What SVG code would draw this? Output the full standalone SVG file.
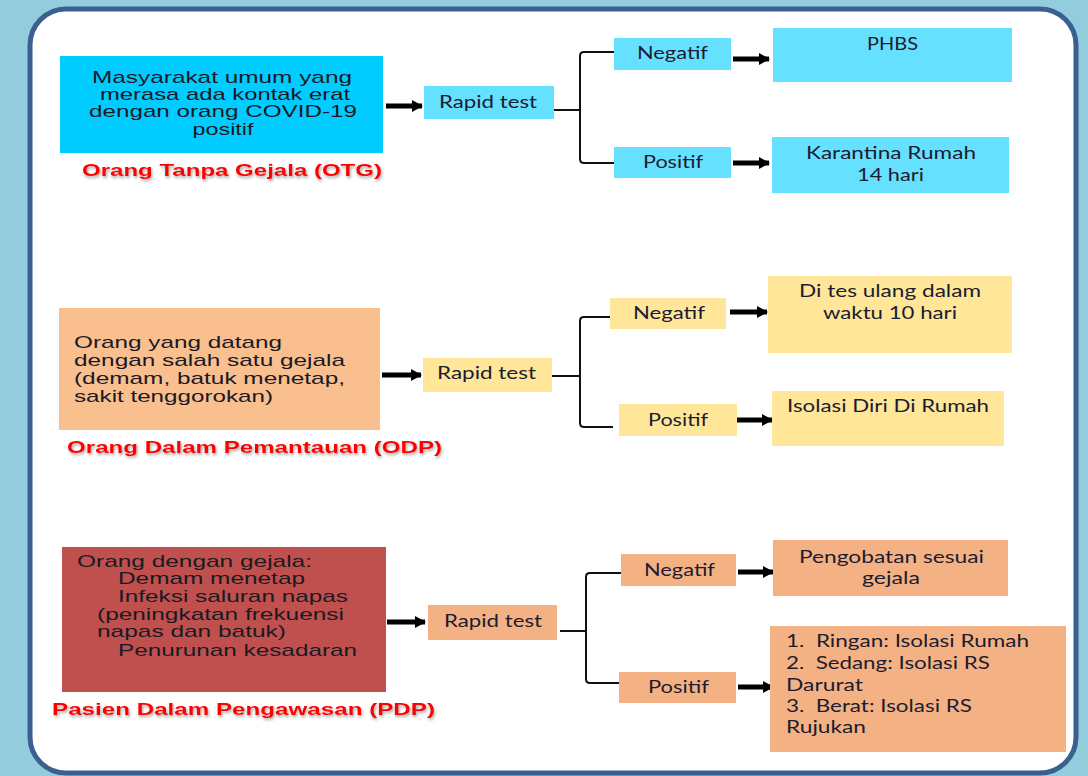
<svg xmlns="http://www.w3.org/2000/svg" width="1088" height="776" viewBox="0 0 1088 776">
<defs>
<style>
.main{font-family:"Liberation Sans",Arial,sans-serif;font-size:17px;fill:#1a1a24}
.lbl{font-family:"Liberation Sans",Arial,sans-serif;font-size:17px;font-weight:bold;fill:#ff0000;filter:url(#shadow)}
.cal{font-family:Lato,"Open Sans",sans-serif;font-size:17px;fill:#1c1c30}
.c{text-anchor:middle}
.conn{fill:none;stroke:#111;stroke-width:2;stroke-linejoin:round}
.arr{fill:none;stroke:#000;stroke-width:5;marker-end:url(#head)}
.otg1{fill:#00ccff}.otg2{fill:#66e0ff}
.odp1{fill:#f9bf8f}.odp2{fill:#ffe699}
.pdp1{fill:#c0504d}.pdp2{fill:#f4b183}
</style>
<filter id="shadow" x="-10%" y="-40%" width="120%" height="200%">
<feDropShadow dx="1" dy="2" stdDeviation="1.5" flood-color="#555" flood-opacity="0.55"/>
</filter>
<marker id="head" markerUnits="userSpaceOnUse" markerWidth="13" markerHeight="13" refX="10" refY="6.5" orient="auto">
<path d="M0,0.5 L11,6.5 L0,12.5 Z" fill="#000"/>
</marker>
</defs>
<rect x="0" y="0" width="1088" height="776" fill="#93cddd"/>
<rect x="30" y="9" width="1046" height="764" rx="36" fill="#ffffff" stroke="#3b5f8f" stroke-width="5"/>

<g id="connectors">
<path class="conn" d="M554,110 H580 M615,52 H584 Q580,52 580,56 V159 Q580,163 584,163 H615"/>
<path class="conn" d="M552,376 H580 M612,317 H584 Q580,317 580,321 V423 Q580,427 584,427 H613"/>
<path class="conn" d="M560,631 H586 M621,573 H590 Q586,573 586,577 V679 Q586,683 590,683 H619"/>
<line class="arr" x1="386" y1="106" x2="422" y2="106"/>
<line class="arr" x1="733" y1="59" x2="769" y2="59"/>
<line class="arr" x1="733" y1="163" x2="769" y2="163"/>
<line class="arr" x1="382" y1="375" x2="421" y2="375"/>
<line class="arr" x1="730" y1="312" x2="767" y2="312"/>
<line class="arr" x1="736" y1="420" x2="772" y2="420"/>
<line class="arr" x1="387" y1="622" x2="425" y2="622"/>
<line class="arr" x1="738" y1="572" x2="773" y2="572"/>
<line class="arr" x1="738" y1="687" x2="773" y2="687"/>
</g>

<!-- OTG -->
<g id="otg-main">
<rect class="otg1" x="60" y="56" width="323" height="97"/>
<text class="main c" x="222" y="83" textLength="260" lengthAdjust="spacingAndGlyphs">Masyarakat umum yang</text>
<text class="main c" x="225" y="100" textLength="250" lengthAdjust="spacingAndGlyphs">merasa ada kontak erat</text>
<text class="main c" x="223" y="117" textLength="268" lengthAdjust="spacingAndGlyphs">dengan orang COVID-19</text>
<text class="main c" x="223" y="134.5" textLength="61" lengthAdjust="spacingAndGlyphs">positif</text>
</g>
<g id="otg-label"><text class="lbl" x="82" y="176" textLength="300" lengthAdjust="spacingAndGlyphs">Orang Tanpa Gejala (OTG)</text></g>
<g id="otg-rapid"><rect class="otg2" x="424" y="86" width="130" height="33"/><text class="cal" x="439" y="108" textLength="98" lengthAdjust="spacingAndGlyphs">Rapid test</text></g>
<g id="otg-neg"><rect class="otg2" x="614" y="38" width="117" height="32"/><text class="cal" x="637" y="59" textLength="71" lengthAdjust="spacingAndGlyphs">Negatif</text></g>
<g id="otg-pos"><rect class="otg2" x="614" y="147" width="117" height="31"/><text class="cal" x="643" y="168" textLength="60" lengthAdjust="spacingAndGlyphs">Positif</text></g>
<g id="otg-phbs"><rect class="otg2" x="773" y="28" width="239" height="54"/><text class="cal" x="867" y="50" textLength="51" lengthAdjust="spacingAndGlyphs">PHBS</text></g>
<g id="otg-karantina"><rect class="otg2" x="772" y="137" width="237" height="56"/>
<text class="cal" x="806" y="159" textLength="170" lengthAdjust="spacingAndGlyphs">Karantina Rumah</text>
<text class="cal" x="857" y="181" textLength="67" lengthAdjust="spacingAndGlyphs">14 hari</text></g>

<!-- ODP -->
<g id="odp-main">
<rect class="odp1" x="59" y="308" width="321" height="122"/>
<text class="main" x="74" y="348" textLength="208" lengthAdjust="spacingAndGlyphs">Orang yang datang</text>
<text class="main" x="74" y="366" textLength="271" lengthAdjust="spacingAndGlyphs">dengan salah satu gejala</text>
<text class="main" x="74" y="384" textLength="271" lengthAdjust="spacingAndGlyphs">(demam, batuk menetap,</text>
<text class="main" x="74" y="402" textLength="199" lengthAdjust="spacingAndGlyphs">sakit tenggorokan)</text>
</g>
<g id="odp-label"><text class="lbl" x="67" y="453" textLength="375" lengthAdjust="spacingAndGlyphs">Orang Dalam Pemantauan (ODP)</text></g>
<g id="odp-rapid"><rect class="odp2" x="423" y="358" width="129" height="34"/><text class="cal" x="437" y="379" textLength="99" lengthAdjust="spacingAndGlyphs">Rapid test</text></g>
<g id="odp-neg"><rect class="odp2" x="610" y="298" width="116" height="31"/><text class="cal" x="633" y="319" textLength="72" lengthAdjust="spacingAndGlyphs">Negatif</text></g>
<g id="odp-pos"><rect class="odp2" x="619" y="404" width="118" height="32"/><text class="cal" x="648" y="426" textLength="60" lengthAdjust="spacingAndGlyphs">Positif</text></g>
<g id="odp-retest"><rect class="odp2" x="768" y="276" width="244" height="77"/>
<text class="cal" x="799" y="297" textLength="182" lengthAdjust="spacingAndGlyphs">Di tes ulang dalam</text>
<text class="cal" x="823" y="319" textLength="134" lengthAdjust="spacingAndGlyphs">waktu 10 hari</text></g>
<g id="odp-isolasi"><rect class="odp2" x="772" y="391" width="232" height="55"/>
<text class="cal" x="787" y="412" textLength="202" lengthAdjust="spacingAndGlyphs">Isolasi Diri Di Rumah</text></g>

<!-- PDP -->
<g id="pdp-main">
<rect class="pdp1" x="62" y="547" width="324" height="145"/>
<text class="main" x="77" y="567" textLength="235" lengthAdjust="spacingAndGlyphs">Orang dengan gejala:</text>
<text class="main" x="118" y="584" textLength="187" lengthAdjust="spacingAndGlyphs">Demam menetap</text>
<text class="main" x="118" y="602" textLength="230" lengthAdjust="spacingAndGlyphs">Infeksi saluran napas</text>
<text class="main" x="97" y="620" textLength="247" lengthAdjust="spacingAndGlyphs">(peningkatan frekuensi</text>
<text class="main" x="97" y="637" textLength="189" lengthAdjust="spacingAndGlyphs">napas dan batuk)</text>
<text class="main" x="118" y="656" textLength="239" lengthAdjust="spacingAndGlyphs">Penurunan kesadaran</text>
</g>
<g id="pdp-label"><text class="lbl" x="52" y="715" textLength="383" lengthAdjust="spacingAndGlyphs">Pasien Dalam Pengawasan (PDP)</text></g>
<g id="pdp-rapid"><rect class="pdp2" x="428" y="605" width="129" height="35"/><text class="cal" x="444" y="627" textLength="98" lengthAdjust="spacingAndGlyphs">Rapid test</text></g>
<g id="pdp-neg"><rect class="pdp2" x="621" y="554" width="115" height="32"/><text class="cal" x="644" y="576" textLength="71" lengthAdjust="spacingAndGlyphs">Negatif</text></g>
<g id="pdp-pos"><rect class="pdp2" x="619" y="672" width="117" height="31"/><text class="cal" x="648" y="693" textLength="61" lengthAdjust="spacingAndGlyphs">Positif</text></g>
<g id="pdp-pengobatan"><rect class="pdp2" x="773" y="540" width="235" height="56"/>
<text class="cal" x="799" y="563" textLength="185" lengthAdjust="spacingAndGlyphs">Pengobatan sesuai</text>
<text class="cal" x="862" y="584" textLength="58" lengthAdjust="spacingAndGlyphs">gejala</text></g>
<g id="pdp-isolasi"><rect class="pdp2" x="770" y="626" width="296" height="126"/>
<text class="cal" x="786" y="647" textLength="243" lengthAdjust="spacingAndGlyphs" xml:space="preserve">1.  Ringan: Isolasi Rumah</text>
<text class="cal" x="786" y="669" textLength="204" lengthAdjust="spacingAndGlyphs" xml:space="preserve">2.  Sedang: Isolasi RS</text>
<text class="cal" x="786" y="691" textLength="77" lengthAdjust="spacingAndGlyphs">Darurat</text>
<text class="cal" x="786" y="712" textLength="186" lengthAdjust="spacingAndGlyphs" xml:space="preserve">3.  Berat: Isolasi RS</text>
<text class="cal" x="786" y="733" textLength="80" lengthAdjust="spacingAndGlyphs">Rujukan</text></g>
</svg>
